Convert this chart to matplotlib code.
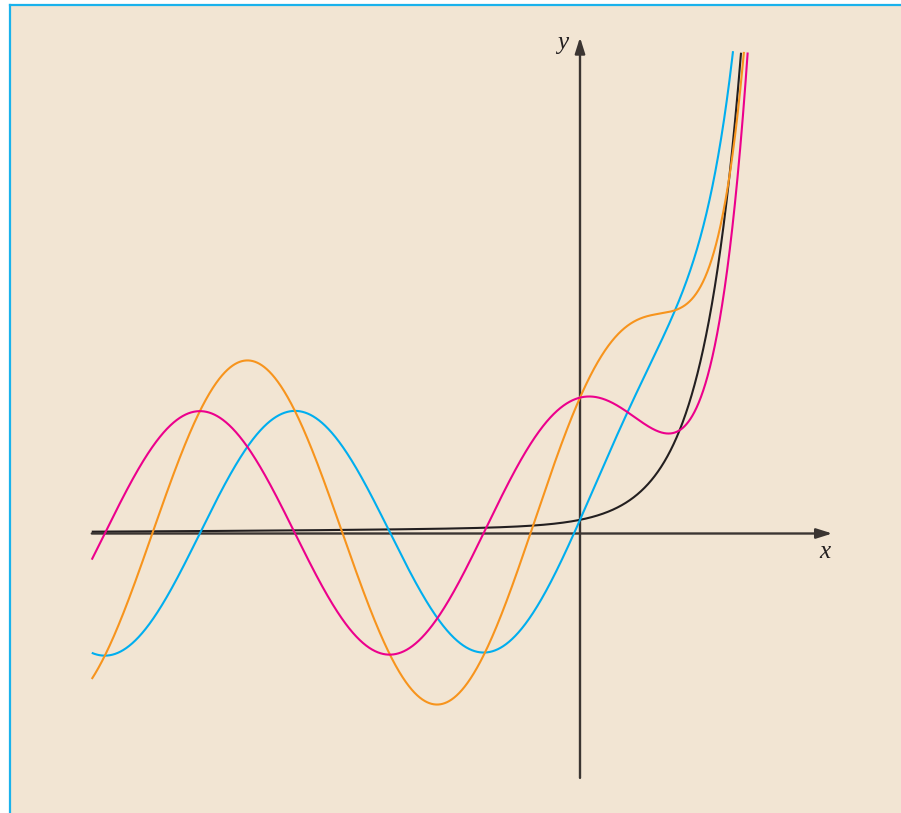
import numpy as np
import matplotlib
matplotlib.use("Agg")
import matplotlib.pyplot as plt
from matplotlib.patches import Rectangle

# ---- data: curve parameters (units: sin amplitude = 1) ----
x_start = -8.07          # left end of every curve
y_top = 3.99             # curves stop at this height
amp = 1.01               # amplitude of the sine / cosine parts
# black curve: slow tail + fast exponential
base_slow_coef, base_slow_rate = 0.055, 0.16
base_fast_coef, base_fast_rate = 0.058, 1.58
# coloured curves ride on the fast part plus a quickly fading offset
colored_offset_rate = 0.6
curve_names = ["base", "base + sin", "base + cos", "base + sin + cos"]
curve_colors = ["#231F20", "#00AEEF", "#EC008C", "#F7941D"]
sin_weights = [0, 1, 0, 1]
cos_weights = [0, 0, 1, 1]
x_axis_range = (-8.07, 4.17)
y_axis_range = (-2.02, 4.10)
axis_labels = ["x", "y"]

# ---- figure ----
W, H = 901, 813
fig = plt.figure(figsize=(W / 100, H / 100), dpi=100)
fig.patch.set_facecolor("white")

# pixel <-> data mapping
px_per_x, px_per_y = 60.5, 121.0
ox, oy = 580.0, 533.5
ax = fig.add_axes([0, 0, 1, 1])
ax.set_xlim((0 - ox) / px_per_x, (W - ox) / px_per_x)
ax.set_ylim((oy - H) / px_per_y, (oy - 0) / px_per_y)
ax.axis("off")

# beige panel with blue top/left border
bg = "#F2E5D3"
ax.add_patch(Rectangle((9 / W, 0), 1 - 9 / W, 1 - 5 / H, transform=ax.transAxes,
                       facecolor=bg, edgecolor="none", zorder=0, clip_on=False))
ax.plot([9.5 / W, 9.5 / W], [0, 1 - 5 / H], transform=ax.transAxes,
        color="#1AB2EC", lw=1.6, zorder=1, clip_on=False)
ax.plot([9.5 / W, 1], [1 - 5.5 / H, 1 - 5.5 / H], transform=ax.transAxes,
        color="#1AB2EC", lw=1.6, zorder=1, clip_on=False)

axis_color = "#3B3532"
arrow_style = "-|>,head_length=0.95,head_width=0.3"
# x-axis
ax.annotate("", xy=(x_axis_range[1], 0), xytext=(x_axis_range[0], 0),
            arrowprops=dict(arrowstyle=arrow_style, lw=1.7, color=axis_color,
                            shrinkA=0, shrinkB=0, mutation_scale=10),
            zorder=2)
# y-axis
ax.annotate("", xy=(0, y_axis_range[1]), xytext=(0, y_axis_range[0]),
            arrowprops=dict(arrowstyle=arrow_style, lw=1.7, color=axis_color,
                            shrinkA=0, shrinkB=0, mutation_scale=10),
            zorder=2)

ax.text((825 - ox) / px_per_x, (oy - 552) / px_per_y, axis_labels[0], family="Liberation Serif",
        style="italic", fontsize=18, ha="center", va="center", color="#231F20", zorder=4)
ax.text((563 - ox) / px_per_x, (oy - 43) / px_per_y, axis_labels[1], family="Liberation Serif",
        style="italic", fontsize=18, ha="center", va="center", color="#231F20", zorder=4)

x = np.linspace(x_start, 3.2, 4000)
fast = base_fast_coef * np.exp(base_fast_rate * x)
black = base_slow_coef * np.exp(base_slow_rate * x) + fast
colored_base = base_slow_coef * np.exp(colored_offset_rate * x) + fast
order = [0, 1, 3, 2]
for i in order:
    base = black if i == 0 else colored_base
    y = base + amp * (sin_weights[i] * np.sin(x) + cos_weights[i] * np.cos(x))
    m = y <= y_top
    ax.plot(x[m], y[m], color=curve_colors[i], lw=1.5, solid_capstyle="butt", zorder=3)

fig.savefig("out.png", dpi=100, facecolor=fig.get_facecolor())
